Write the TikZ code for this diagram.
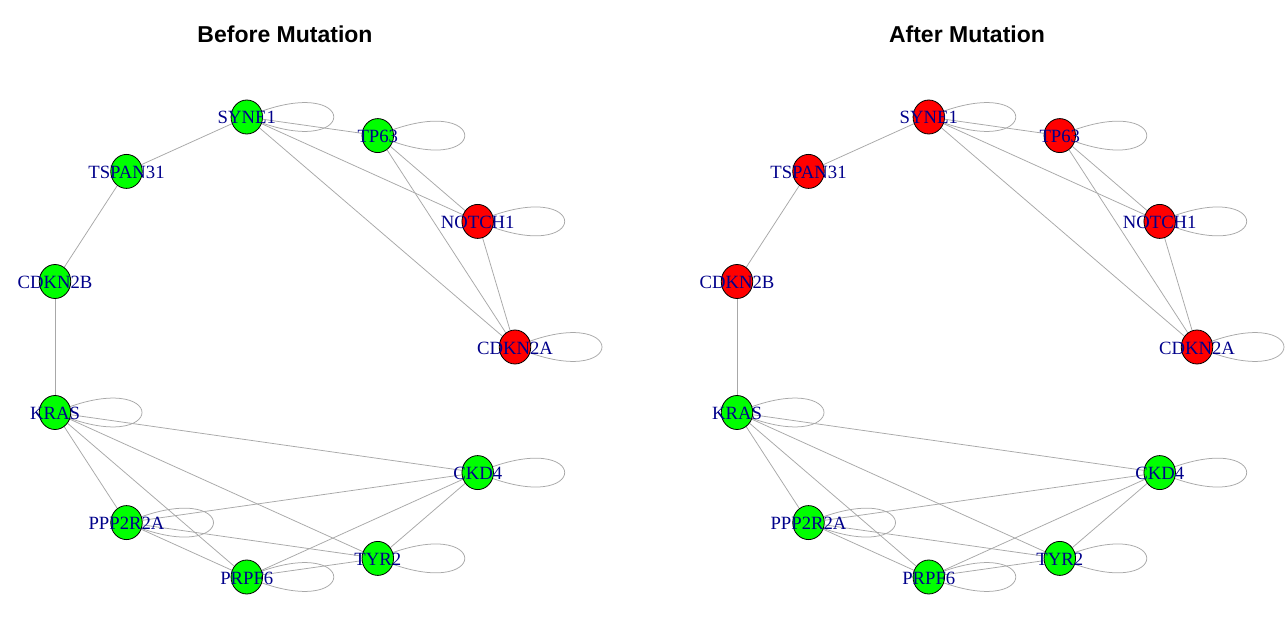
\documentclass[tikz,border=0pt]{standalone}
\usepackage{fontspec}
\setmainfont{Liberation Serif}
\newfontfamily\titlefont{Liberation Sans}
\usetikzlibrary{backgrounds,calc,shapes.geometric}
\definecolor{lblc}{RGB}{0,0,139}
\definecolor{edgec}{RGB}{168,168,168}
\definecolor{vgreen}{RGB}{0,255,0}
\definecolor{vred}{RGB}{255,0,0}
\tikzset{
  vert/.style={ellipse, draw=black, line width=0.8pt, minimum width=31.5pt, minimum height=34pt, inner sep=0pt},
  lab/.style={text=lblc, font=\fontsize{18.7}{20}\selectfont, anchor=base, yshift=-7pt, inner sep=0pt},
  ttl/.style={font=\titlefont\bfseries\fontsize{23}{26}\selectfont, anchor=base, inner sep=0pt},
  edge/.style={draw=edgec, line width=0.75pt},
}
\newcommand\selfloop[1]{\draw[edge] (#1.center) .. controls ($(#1.center)+(116,-50)$) and ($(#1.center)+(116,50)$) .. (#1.center);}
\newcommand\gnet[4]{%
\begin{scope}[shift={(#3,0)}]
\node[ttl] (#1title) at (285,42.7) {#4};
\node[vert,fill=#2] (#1syne) at (246.8,117) {};
\node[vert,fill=#2] (#1tp) at (377.8,135.6) {};
\node[vert,fill=vred] (#1notch) at (477.7,221.4) {};
\node[vert,fill=vred] (#1cdkna) at (515,347) {};
\node[vert,fill=vgreen] (#1ckd) at (477.7,472.6) {};
\node[vert,fill=vgreen] (#1tyr) at (377.8,558.4) {};
\node[vert,fill=vgreen] (#1prpf) at (246.8,577) {};
\node[vert,fill=vgreen] (#1ppp) at (126.5,522.6) {};
\node[vert,fill=vgreen] (#1kras) at (55,412.5) {};
\node[vert,fill=#2] (#1cdknb) at (55,281.5) {};
\node[vert,fill=#2] (#1tspan) at (126.5,171.4) {};
\node[lab] (#1synel) at (#1syne) {SYNE1};
\node[lab] (#1tpl) at (#1tp) {TP63};
\node[lab] (#1notchl) at (#1notch) {NOTCH1};
\node[lab] (#1cdknal) at (#1cdkna) {CDKN2A};
\node[lab] (#1ckdl) at (#1ckd) {CKD4};
\node[lab] (#1tyrl) at (#1tyr) {TYR2};
\node[lab] (#1prpfl) at (#1prpf) {PRPF6};
\node[lab] (#1pppl) at (#1ppp) {PPP2R2A};
\node[lab] (#1krasl) at (#1kras) {KRAS};
\node[lab] (#1cdknbl) at (#1cdknb) {CDKN2B};
\node[lab] (#1tspanl) at (#1tspan) {TSPAN31};
\begin{scope}[on background layer]
\draw[edge] (#1syne) -- (#1tspan);
\draw[edge] (#1tspan) -- (#1cdknb);
\draw[edge] (#1cdknb) -- (#1kras);
\draw[edge] (#1syne) -- (#1tp);
\draw[edge] (#1syne) -- (#1notch);
\draw[edge] (#1syne) -- (#1cdkna);
\draw[edge] (#1tp) -- (#1notch);
\draw[edge] (#1tp) -- (#1cdkna);
\draw[edge] (#1notch) -- (#1cdkna);
\draw[edge] (#1kras) -- (#1ckd);
\draw[edge] (#1kras) -- (#1ppp);
\draw[edge] (#1kras) -- (#1prpf);
\draw[edge] (#1kras) -- (#1tyr);
\draw[edge] (#1ckd) -- (#1ppp);
\draw[edge] (#1ckd) -- (#1prpf);
\draw[edge] (#1ckd) -- (#1tyr);
\draw[edge] (#1ppp) -- (#1tyr);
\draw[edge] (#1ppp) -- (#1prpf);
\draw[edge] (#1prpf) -- (#1tyr);
\selfloop{#1syne}
\selfloop{#1tp}
\selfloop{#1notch}
\selfloop{#1cdkna}
\selfloop{#1kras}
\selfloop{#1ckd}
\selfloop{#1ppp}
\selfloop{#1prpf}
\selfloop{#1tyr}
\end{scope}
\end{scope}}
\begin{document}
\begin{tikzpicture}[x=1pt,y=-1pt]
\useasboundingbox (0,0) rectangle (1286,639);
\begin{scope}[on background layer]
\fill[white] (0,0) rectangle (1286,639);
\end{scope}
\gnet{a}{vgreen}{0}{Before Mutation}
\gnet{b}{vred}{682}{After Mutation}
\end{tikzpicture}
\end{document}
